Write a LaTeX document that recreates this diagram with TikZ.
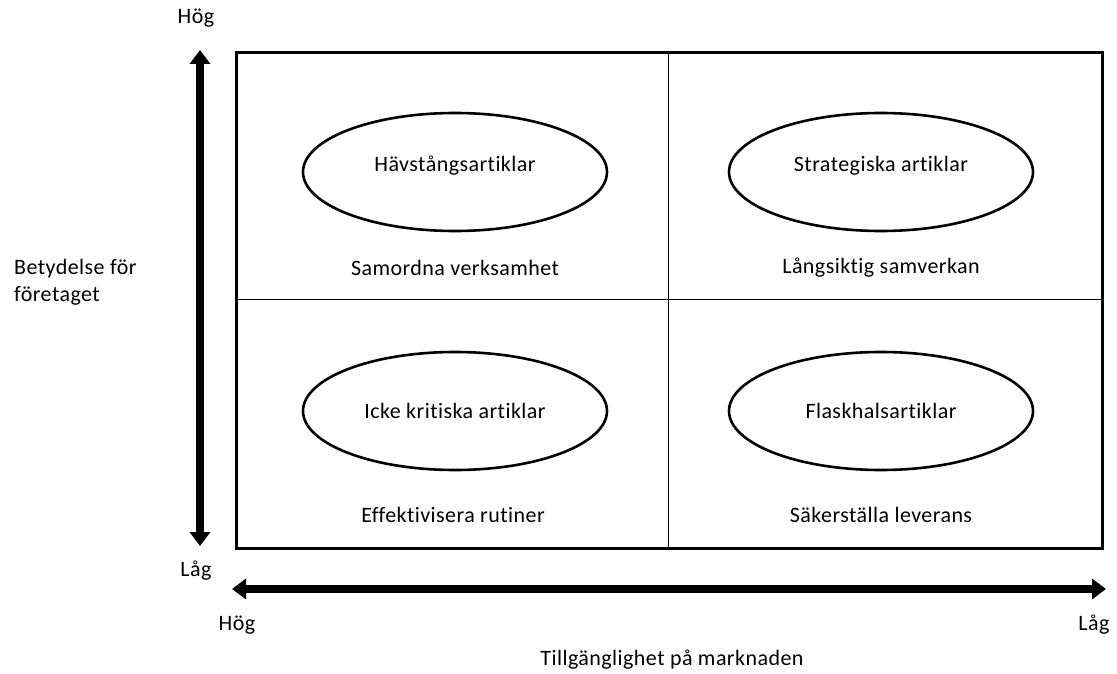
\documentclass[tikz,border=0pt]{standalone}
\usepackage{fontspec}
\setmainfont[Ligatures={NoCommon},LetterSpace=2]{Carlito}
\usetikzlibrary{arrows.meta,shapes.geometric}
\begin{document}
\begin{tikzpicture}[x=1pt,y=-1pt,
  lbl/.style={font=\fontsize{22}{27}\selectfont,inner sep=0pt},
  oval/.style={draw,line width=2.6pt,ellipse,minimum width=304pt,minimum height=118pt},
  bigarrow/.style={line width=8pt,{Triangle[length=14pt,width=20pt]}-{Triangle[length=14pt,width=20pt]}}]
\useasboundingbox (0,0) rectangle (1117,674);
% quadrant frame
\draw[line width=3pt] (236,53) rectangle (1102,548);
\draw[line width=1pt] (668,53) -- (668,548);
\draw[line width=1pt] (236,299) -- (1102,299);
% ovals
\node[oval] (tl) at (455,172) {};
\node[oval] (tr) at (881,172) {};
\node[oval] (bl) at (455,411) {};
\node[oval] (br) at (881,411) {};
\node[lbl] (tlt) at (455,166) {Hävstångsartiklar};
\node[lbl] (trt) at (881,166) {Strategiska artiklar};
\node[lbl] (blt) at (455,411) {Icke kritiska artiklar};
\node[lbl] (brt) at (881,411) {Flaskhalsartiklar};
% strategies
\node[lbl] (tls) at (455,268) {Samordna verksamhet};
\node[lbl] (trs) at (881,268) {Långsiktig samverkan};
\node[lbl] (bls) at (453,515) {Effektivisera rutiner};
\node[lbl] (brs) at (881,515) {Säkerställa leverans};
% axes
\coordinate (vt) at (200,50);
\coordinate (vb) at (200,546);
\coordinate (hl) at (232,589);
\coordinate (hr) at (1106,589);
\draw[bigarrow] (vt) -- (vb);
\draw[bigarrow] (hl) -- (hr);
\node[lbl] (vhi) at (196,18) {Hög};
\node[lbl] (vlo) at (196,571) {Låg};
\node[lbl] (hhi) at (237,625) {Hög};
\node[lbl] (hlo) at (1094,625) {Låg};
\node[lbl] (hax) at (672,660) {Tillgänglighet på marknaden};
\node[lbl,anchor=west,align=left] (vax) at (14,282) {Betydelse för\\företaget};
\end{tikzpicture}
\end{document}
